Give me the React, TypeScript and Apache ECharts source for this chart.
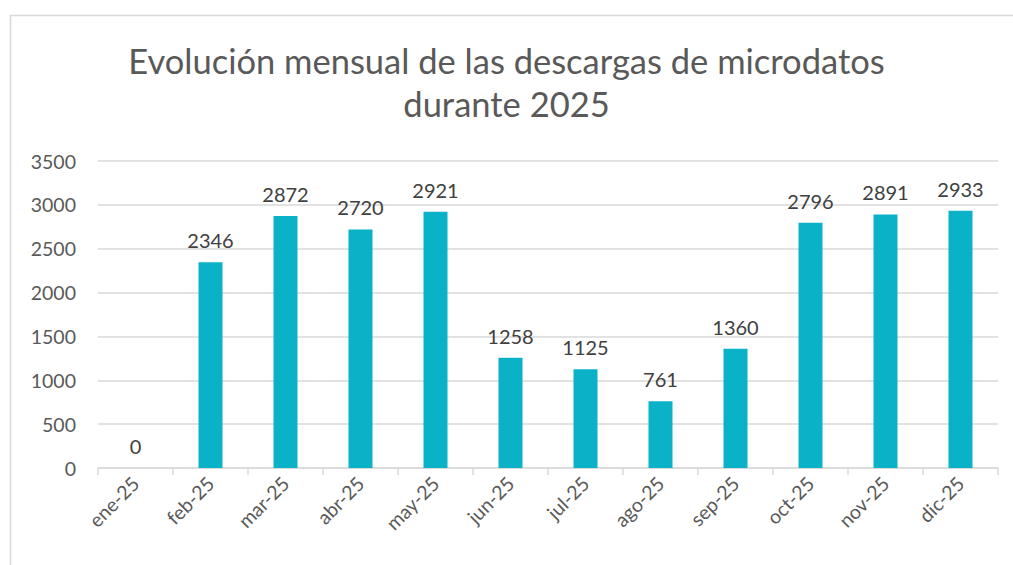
import React, { useEffect, useRef } from "react";
import * as echarts from "echarts";

const titleLines = ["Evolución mensual de las descargas de microdatos", "durante 2025"];
const categories = ["ene-25", "feb-25", "mar-25", "abr-25", "may-25", "jun-25", "jul-25", "ago-25", "sep-25", "oct-25", "nov-25", "dic-25"];
const downloads = [0, 2346, 2872, 2720, 2921, 1258, 1125, 761, 1360, 2796, 2891, 2933];
const yMin = 0;
const yMax = 3500;
const yStep = 500;

const FONT = "Lato, 'Open Sans', sans-serif";

export default function App() {
  const ref = useRef<HTMLDivElement>(null);
  useEffect(() => {
    if (!ref.current) return;
    const chart = echarts.init(ref.current, undefined, { renderer: "svg" });
    chart.setOption({
      animation: false,
      backgroundColor: "#ffffff",
      graphic: [
        {
          type: "rect",
          shape: { x: 10.5, y: 15.5, width: 1200, height: 700 },
          style: { fill: "none", stroke: "#d9d9d9", lineWidth: 1.5 },
          silent: true,
        },
      ],
      title: {
        text: titleLines.join("\n"),
        left: "center",
        top: 34,
        textStyle: {
          fontFamily: FONT,
          fontSize: 34.5,
          fontWeight: "normal",
          color: "#595959",
          lineHeight: 43,
        },
      },
      grid: { left: 98, right: 15, top: 161, bottom: 97, containLabel: false },
      xAxis: {
        type: "category",
        data: categories,
        axisLine: { lineStyle: { color: "#d9d9d9", width: 1.5 } },
        axisTick: { show: true, alignWithLabel: false, length: 7, lineStyle: { color: "#d9d9d9", width: 1.5 } },
        axisLabel: {
          rotate: 45,
          fontFamily: FONT,
          fontSize: 19.5,
          color: "#595959",
          margin: 12,
          interval: 0,
        },
      },
      yAxis: {
        type: "value",
        min: yMin,
        max: yMax,
        interval: yStep,
        axisLine: { show: false },
        axisTick: { show: false },
        splitLine: { lineStyle: { color: "#d9d9d9", width: 1.5 } },
        axisLabel: {
          fontFamily: FONT,
          fontSize: 19.5,
          color: "#595959",
          margin: 22,
          formatter: (v: number) => String(v),
        },
      },
      series: [
        {
          type: "bar",
          data: downloads,
          barWidth: 24,
          itemStyle: { color: "#0ab2c8" },
          label: {
            show: true,
            position: "top",
            distance: 12,
            fontFamily: FONT,
            fontSize: 20,
            color: "#404040",
          },
        },
      ],
    });
    return () => chart.dispose();
  }, []);
  return <div ref={ref} style={{ position: "absolute", left: 0, top: 0, width: 1013, height: 565 }} />;
}
